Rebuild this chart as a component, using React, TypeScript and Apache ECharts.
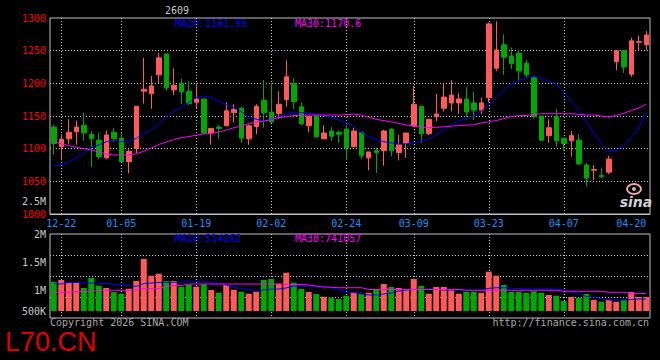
import React, { useEffect, useRef } from 'react';
import * as echarts from 'echarts';

const dates = [
  '12-19','12-22','12-23','12-24','12-25','12-26','12-29','12-30','12-31','01-05',
  '01-06','01-07','01-08','01-09','01-12','01-13','01-14','01-15','01-16','01-19',
  '01-20','01-21','01-22','01-23','01-26','01-27','01-28','01-29','01-30','02-02',
  '02-03','02-04','02-05','02-06','02-09','02-10','02-11','02-12','02-13','02-24',
  '02-25','02-26','02-27','03-02','03-03','03-04','03-05','03-06','03-09','03-10',
  '03-11','03-12','03-13','03-16','03-17','03-18','03-19','03-20','03-23','03-24',
  '03-25','03-26','03-27','03-30','03-31','04-01','04-02','04-03','04-07','04-08',
  '04-09','04-10','04-13','04-14','04-15','04-16','04-17','04-20','04-21','04-22',
];

const opens = [
  1133,1103,1115,1126,1136,1122,1113,1086,1125,1116,
  1080,1100,1188,1184,1213,1245,1190,1200,1188,1171,
  1176,1124,1133,1135,1155,1162,1115,1134,1174,1156,
  1154,1175,1200,1164,1135,1150,1115,1127,1125,1130,
  1103,1125,1086,1097,1097,1130,1094,1108,1135,1165,
  1123,1149,1162,1170,1170,1176,1170,1159,1178,1223,
  1259,1242,1246,1231,1209,1150,1120,1149,1116,1112,
  1113,1075,1067,1059,1064,1233,1250,1214,1263,1259,
];
const closes = [
  1108,1114,1125,1133,1124,1115,1088,1121,1115,1080,
  1096,1165,1191,1196,1239,1193,1197,1187,1169,1176,
  1124,1131,1131,1158,1160,1116,1135,1165,1155,1141,
  1168,1210,1172,1138,1149,1118,1124,1119,1122,1101,
  1127,1089,1095,1094,1127,1097,1106,1124,1168,1123,
  1145,1153,1179,1182,1176,1156,1159,1170,1291,1251,
  1240,1230,1219,1213,1149,1113,1132,1112,1108,1120,
  1077,1055,1068,1057,1084,1250,1225,1265,1264,1274,
];
const lows = [
  1091,1082,1107,1106,1112,1072,1084,1084,1110,1080,
  1062,1093,1169,1161,1200,1189,1182,1168,1167,1162,
  1123,1106,1115,1135,1140,1109,1106,1122,1132,1140,
  1146,1164,1161,1136,1125,1117,1115,1112,1109,1082,
  1103,1084,1067,1063,1074,1088,1082,1086,1133,1109,
  1121,1142,1157,1157,1153,1149,1144,1153,1171,1219,
  1213,1222,1203,1208,1147,1112,1109,1103,1097,1088,
  1075,1042,1052,1055,1061,1220,1216,1210,1250,1251,
];
const highs = [
  1136,1122,1145,1143,1155,1127,1124,1128,1132,1124,
  1099,1165,1239,1211,1247,1245,1223,1207,1203,1200,
  1176,1132,1136,1171,1168,1164,1137,1168,1205,1200,
  1188,1235,1208,1171,1149,1151,1136,1133,1128,1136,
  1132,1125,1095,1101,1129,1131,1121,1124,1196,1166,
  1145,1184,1200,1205,1185,1194,1187,1178,1293,1295,
  1275,1255,1251,1236,1211,1150,1145,1161,1116,1127,
  1122,1078,1075,1071,1089,1250,1250,1270,1273,1280,
];

const ma10 = [
  1073.5,1075,1079.6,1086.5,1093.8,1101.5,1105.6,1110.5,1113.3,1110.7,
  1111.7,1115.6,1124,1129.3,1137.3,1148.5,1158,1163.3,1170.7,1178.3,
  1180.6,1178,1173,1167.6,1162.5,1156.6,1148.2,1145,1142.6,1145,
  1148.5,1153,1156,1155.4,1153.8,1153,1150.8,1148.5,1143.9,1140,
  1134,1124.7,1117.9,1113.3,1110.7,1108.7,1107.1,1107.4,1109,1111.7,
  1115.1,1120.9,1129.3,1136.2,1142.3,1146.2,1150.8,1157.7,1167.6,1179,
  1189.3,1199,1204.6,1208.9,1210.2,1207.7,1203.1,1197.9,1187.5,1172.2,
  1158.9,1141.6,1124,1107.6,1096,1096.4,1105.6,1116.8,1132,1155,
];
const ma30 = [
  1111.7,1107.1,1104.8,1102.2,1100,1098,1094.9,1091.8,1090.3,1090.3,
  1090.6,1092.1,1096,1101,1106.4,1110.2,1114,1116.9,1118.6,1120.5,
  1122.4,1123.5,1125.4,1128.6,1131.9,1134.7,1138.4,1140.7,1142,1144.6,
  1147.4,1148.9,1150.6,1151.2,1151.5,1151.5,1151.5,1151.5,1151.5,1152,
  1153,1151.5,1147.7,1144.9,1143,1141.1,1138.8,1136.2,1134.7,1133.2,
  1132.1,1132.7,1133.5,1134.5,1135.5,1136,1136.5,1139.3,1141.1,1143,
  1146,1149.2,1150.5,1150.8,1152.3,1153.5,1153.5,1153.5,1153.5,1153.5,
  1152.6,1151.5,1151.5,1150,1148.5,1150.8,1154.3,1158.4,1162.2,1168,
];

// volumes in thousands
const volumesK = [
  1148,1179,1130,1138,1036,1214,1077,1036,964,934,
  1023,1161,1554,1255,1291,1161,1161,1059,1095,1059,
  1102,1000,952,1089,1005,970,934,970,1179,1196,
  1113,1309,1130,1018,964,929,880,863,839,898,
  959,934,952,1013,1107,1054,1036,1000,1196,1071,
  934,1054,1054,1018,934,970,970,946,1327,1255,
  1089,970,970,952,977,952,911,898,804,875,
  863,929,821,791,827,791,827,964,875,875,
];
const volMa10K = [
  1120,1107,1134,1134,1125,1125,1116,1116,1098,1089,
  1080,1063,1116,1125,1134,1138,1138,1143,1148,1148,
  1148,1134,1116,1089,1048,1027,1000,1000,1000,1013,
  1018,1036,1071,1071,1071,1063,1054,1048,1000,964,
  955,929,911,911,929,946,982,1000,1009,1013,
  1013,1009,1000,1000,1000,1000,1000,1000,1030,1041,
  1041,1030,1027,1018,1018,1018,1018,1018,991,964,
  929,884,870,848,821,821,821,830,839,839,
];
const volMa30K = [
  959,959,959,973,973,973,995,995,995,995,
  995,1000,1027,1027,1027,1063,1080,1080,1107,1107,
  1107,1107,1107,1107,1107,1107,1107,1107,1107,1107,
  1107,1098,1098,1098,1089,1071,1054,1048,1041,1041,
  1041,1041,1009,1009,1009,1009,1009,1009,1009,1009,
  1009,1009,1009,1009,1009,995,995,995,995,995,
  995,995,995,995,995,995,995,995,977,977,
  977,977,977,977,959,959,959,937,937,937,
];

const dateLabelIdx = [1, 9, 19, 29, 39, 48, 58, 68, 77];
const dateLineIdx = [1, 9, 19, 29, 39, 48, 58, 68];
const priceMin = 1000;
const priceMax = 1300;
const priceStep = 50;
const volMin = 500000;
const volMax = 2000000;
const volStep = 500000;
const volTickLabels: Record<number, string> = { 500000: '500K', 1000000: '1M', 1500000: '1.5M', 2000000: '2M' };

export default function App() {
  const ref = useRef<HTMLDivElement>(null);
  useEffect(() => {
    document.body.style.margin = '0';
    document.body.style.background = '#000';
    const chart = echarts.init(ref.current!, null, { renderer: 'svg' });
    const mono = '"DejaVu Sans Mono", monospace';
    const up = '#ff5a5a';
    const down = '#00a800';
    const grey = '#c0c0c0';
    const dotted = { color: '#c8c8c8', type: [1, 2], width: 1 };
    const kData = dates.map((_, i) => [opens[i], closes[i], lows[i], highs[i]]);
    const volData = volumesK.map((v, i) => ({
      value: v * 1000,
      itemStyle: { color: closes[i] >= opens[i] ? up : down },
    }));
    const showLabel = (i: number) => dateLabelIdx.includes(i);
    const showLine = (i: number) => dateLineIdx.includes(i);
    const txt = (x: number, y: number, text: string, fill: string, align = 'left', font = `10px ${mono}`, lineHeight?: number) => ({
      type: 'text', x, y, silent: true,
      style: { text, fill, font, textAlign: align, textVerticalAlign: 'middle', ...(lineHeight ? { lineHeight } : {}) },
    });
    const option: any = {
      animation: false,
      backgroundColor: '#000',
      grid: [
        { left: 50, top: 18, width: 600, height: 196, show: true, borderColor: grey, borderWidth: 1, outerBoundsMode: 'none' },
        { left: 50, top: 234, width: 600, height: 84, show: true, borderColor: grey, borderWidth: 1, outerBoundsMode: 'none' },
        { left: 50, top: 234, width: 600, height: 77, outerBoundsMode: 'none' },
      ],
      xAxis: [
        {
          type: 'category', gridIndex: 0, data: dates, boundaryGap: true,
          axisLine: { show: true, lineStyle: { color: grey } },
          axisTick: { show: false },
          axisLabel: { interval: (i: number) => showLabel(i), color: '#1e90ff', fontFamily: mono, fontSize: 10, margin: 4 },
          splitLine: { show: true, interval: (i: number) => showLine(i), alignWithLabel: true, lineStyle: dotted },
        },
        {
          type: 'category', gridIndex: 1, data: dates, boundaryGap: true,
          axisLine: { show: false }, axisTick: { show: false }, axisLabel: { show: false },
          splitLine: { show: true, interval: (i: number) => showLine(i), alignWithLabel: true, lineStyle: dotted },
        },
        { type: 'category', gridIndex: 2, data: dates, boundaryGap: true, show: false },
      ],
      yAxis: [
        {
          type: 'value', gridIndex: 0, min: priceMin, max: priceMax, interval: priceStep,
          axisLine: { show: false }, axisTick: { show: false },
          axisLabel: { color: '#ff0000', fontFamily: mono, fontSize: 10, margin: 4, formatter: (v: number) => String(v) },
          splitLine: { show: true, lineStyle: dotted, showMinLine: false, showMaxLine: false },
        },
        {
          type: 'value', gridIndex: 1, min: volMin, max: volMax, interval: volStep,
          axisLine: { show: false }, axisTick: { show: false },
          axisLabel: {
            color: '#c8c8c8', fontFamily: mono, fontSize: 10, margin: 4,
            formatter: (v: number) => (v === volMin ? '{low|' + volTickLabels[v] + '}' : volTickLabels[v] || ''),
            rich: { low: { color: '#c8c8c8', fontFamily: mono, fontSize: 10, padding: [0, 0, 14, 0] } },
          },
          splitLine: { show: false },
        },
        {
          type: 'value', gridIndex: 1, min: 0, max: 4, interval: 1,
          axisLine: { show: false }, axisTick: { show: false }, axisLabel: { show: false },
          splitLine: { show: true, lineStyle: dotted, showMinLine: false, showMaxLine: false },
        },
        { type: 'value', gridIndex: 2, min: 625000, max: volMax, show: false, splitLine: { show: false } },
      ],
      series: [
        {
          type: 'candlestick', xAxisIndex: 0, yAxisIndex: 0, data: kData, barWidth: 5,
          itemStyle: { color: up, color0: down, borderColor: up, borderColor0: down, borderWidth: 1 },
        },
        { type: 'line', xAxisIndex: 0, yAxisIndex: 0, data: ma10, symbol: 'none', silent: true, lineStyle: { color: '#0000ff', width: 1 } },
        { type: 'line', xAxisIndex: 0, yAxisIndex: 0, data: ma30, symbol: 'none', silent: true, lineStyle: { color: '#ff00ff', width: 1 } },
        { type: 'bar', xAxisIndex: 2, yAxisIndex: 3, data: volData, barWidth: 6 },
        { type: 'line', xAxisIndex: 2, yAxisIndex: 3, data: volMa10K.map((v) => v * 1000), symbol: 'none', silent: true, lineStyle: { color: '#0000ff', width: 1 } },
        { type: 'line', xAxisIndex: 2, yAxisIndex: 3, data: volMa30K.map((v) => v * 1000), symbol: 'none', silent: true, lineStyle: { color: '#ff00ff', width: 1 } },
      ],
      graphic: [
        txt(177, 10, '2609', '#c8c8c8', 'center'),
        txt(175, 23, 'MA10:1161.95', '#0000ff'),
        txt(295, 23, 'MA30:1170.6', '#ff00ff'),
        txt(175, 238, 'MA10:514262', '#0000ff'),
        txt(295, 238, 'MA30:741057', '#ff00ff'),
        txt(46, 201, '2.5M', '#c8c8c8', 'right'),
        txt(50, 322, 'Copyright 2026 SINA.COM', '#a8a8a8', 'left', `10px ${mono}`, 10),
        txt(649, 322, 'http://finance.sina.com.cn', '#a8a8a8', 'right', `10px ${mono}`, 10),
        txt(5, 342, 'L70.CN', '#e00000', 'left', '27px "Liberation Sans", Arial, sans-serif', 20),
        { type: 'ellipse', silent: true, shape: { cx: 634, cy: 189, rx: 7, ry: 5 }, style: { fill: 'none', stroke: '#f2a6a6', lineWidth: 2 } },
        { type: 'circle', silent: true, shape: { cx: 634, cy: 189, r: 2 }, style: { fill: '#b8b8b8' } },
        txt(636, 202, 'sina', '#d0d0d0', 'center', 'italic bold 14px "DejaVu Sans", sans-serif'),
      ],
    };
    chart.setOption(option);
    return () => chart.dispose();
  }, []);
  return <div ref={ref} style={{ width: 660, height: 360, background: '#000' }} />;
}
